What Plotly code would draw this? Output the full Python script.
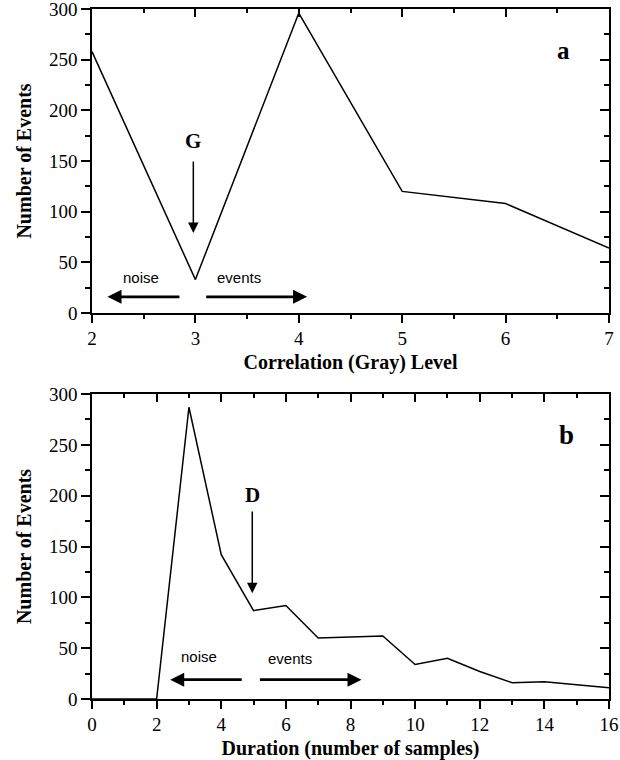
import plotly.graph_objects as go

# Panel a
gray_levels = [2, 3, 4, 5, 6, 7]
gray_counts = [258, 33, 296, 120, 108, 64]

# Panel b
durations = [0, 1, 2, 3, 4, 5, 6, 7, 8, 9, 10, 11, 12, 13, 14, 15, 16]
duration_counts = [0, 0, 0, 287, 142, 87, 92, 60, 61, 62, 34, 40, 27, 16, 17, 14, 11]

y_ticks = [0, 50, 100, 150, 200, 250, 300]

SERIF = "Liberation Serif, Times New Roman, serif"
SANS = "Liberation Sans, Arial, sans-serif"

fig = go.Figure()
fig.add_trace(go.Scatter(x=gray_levels, y=gray_counts, mode="lines",
                         line=dict(color="black", width=1.5),
                         xaxis="x", yaxis="y", showlegend=False, hoverinfo="skip"))
fig.add_trace(go.Scatter(x=durations, y=duration_counts, mode="lines",
                         line=dict(color="black", width=1.5),
                         xaxis="x2", yaxis="y2", showlegend=False, hoverinfo="skip"))
# dummy traces for mirror axes
for xa, ya in [("x3", "y"), ("x", "y3"), ("x4", "y2"), ("x2", "y4")]:
    fig.add_trace(go.Scatter(x=[None], y=[None], xaxis=xa, yaxis=ya,
                             showlegend=False, hoverinfo="skip"))

top_dom = [0.5594, 1.0]
bot_dom = [0.0, 0.442]

def main_x(rng, dtick, minor, dom_anchor, title):
    return dict(range=rng, dtick=dtick, tick0=0, anchor=dom_anchor, automargin=False,
                showline=True, linecolor="black", linewidth=1.5,
                ticks="outside", ticklen=8, tickwidth=1.5, tickcolor="black",
                minor=dict(dtick=minor, ticklen=4, tickwidth=1.5, tickcolor="black", ticks="outside"),
                showgrid=False, zeroline=False, ticklabelstandoff=-1,
                ticklabeloverflow="allow",
                tickfont=dict(family=SERIF, size=19, color="black"),
                title=dict(text=title, font=dict(family=SERIF, size=20, color="black",
                                                 weight="bold"), standoff=7))

def main_y(dom, title, anchor):
    return dict(range=[0, 300], domain=dom, tickvals=y_ticks, anchor=anchor, automargin=False,
                showline=True, linecolor="black", linewidth=1.5,
                ticks="outside", ticklen=9, tickwidth=1.5, tickcolor="black",
                minor=dict(dtick=25, tick0=0, ticklen=5, tickwidth=1.5, tickcolor="black", ticks="outside"),
                showgrid=False, zeroline=False, ticklabeloverflow="allow",
                tickfont=dict(family=SERIF, size=19, color="black"),
                title=dict(text=title, font=dict(family=SERIF, size=20, color="black",
                                                 weight="bold"), standoff=12))

def mirror_x(rng, dtick, minor, over, anchor):
    return dict(range=rng, dtick=dtick, tick0=0, overlaying=over, anchor=anchor, side="top",
                automargin=False,
                showline=True, linecolor="black", linewidth=1.5,
                ticks="inside", ticklen=8, tickwidth=1.5, tickcolor="black",
                minor=dict(dtick=minor, ticklen=4, tickwidth=1.5, tickcolor="black", ticks="inside"),
                showticklabels=False, showgrid=False, zeroline=False)

def mirror_y(over, anchor):
    return dict(range=[0, 300], tickvals=y_ticks, overlaying=over, anchor=anchor, side="right",
                automargin=False,
                showline=True, linecolor="black", linewidth=1.5,
                ticks="inside", ticklen=9, tickwidth=1.5, tickcolor="black",
                minor=dict(dtick=25, tick0=0, ticklen=5, tickwidth=1.5, tickcolor="black", ticks="inside"),
                showticklabels=False, showgrid=False, zeroline=False)

fig.update_layout(
    width=620, height=760,
    margin=dict(l=92, r=11, t=9, b=61),
    paper_bgcolor="white", plot_bgcolor="white",
    xaxis=main_x([2, 7], 1, 0.5, "y", "Correlation (Gray) Level"),
    yaxis=main_y(top_dom, "Number of Events", "x"),
    xaxis2=main_x([0, 16], 2, 1, "y2", "Duration (number of samples)"),
    yaxis2=main_y(bot_dom, "Number of Events", "x2"),
    xaxis3=mirror_x([2, 7], 1, 0.5, "x", "y"),
    yaxis3=mirror_y("y", "x"),
    xaxis4=mirror_x([0, 16], 2, 1, "x2", "y2"),
    yaxis4=mirror_y("y2", "x2"),
)

def label(text, x, y, xr, yr, size, family=SERIF, bold=True):
    fig.add_annotation(x=x, y=y, xref=xr, yref=yr, text=text, showarrow=False,
                       font=dict(family=family, size=size, color="black",
                                 weight="bold" if bold else "normal"))

def arrow(x, y, ax, ay, xr, yr, width, size, head=2):
    fig.add_annotation(x=x, y=y, ax=ax, ay=ay, xref=xr, yref=yr, axref=xr, ayref=yr,
                       text="", showarrow=True, arrowhead=head, arrowsize=size,
                       arrowwidth=width, arrowcolor="black")

# Panel a annotations
label("a", 6.56, 259, "x", "y", 25)
label("G", 2.98, 170, "x", "y", 21)
arrow(2.98, 79, 2.98, 151, "x", "y", 1.5, 1.4)
label("noise", 2.47, 35, "x", "y", 15, SANS, False)
label("events", 3.42, 35, "x", "y", 15, SANS, False)
arrow(2.15, 16, 2.86, 16, "x", "y", 2.8, 1.0)
arrow(4.08, 16, 3.09, 16, "x", "y", 2.8, 1.0)

# Panel b annotations
label("b", 14.67, 260, "x2", "y2", 27)
label("D", 4.96, 201, "x2", "y2", 21)
arrow(4.96, 104, 4.96, 186, "x2", "y2", 1.5, 1.4)
label("noise", 3.32, 42, "x2", "y2", 15, SANS, False)
label("events", 6.14, 40, "x2", "y2", 15, SANS, False)
arrow(2.42, 19, 4.68, 19, "x2", "y2", 2.8, 1.0)
arrow(8.34, 19, 5.15, 19, "x2", "y2", 2.8, 1.0)

fig.write_html("out.html", config={"displayModeBar": False},
               post_script="document.body.style.margin='0';")
